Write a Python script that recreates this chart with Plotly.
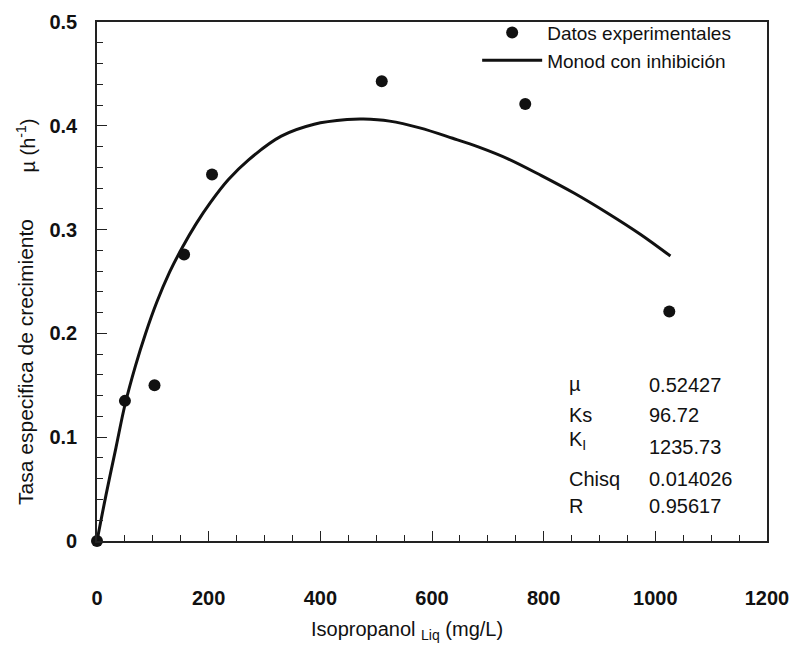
import plotly.graph_objects as go

# Experimental data: isopropanol concentration (mg/L) vs specific growth rate (1/h)
conc_exp = [0, 50, 103, 156, 206, 510, 767, 1025]
mu_exp = [0.0, 0.135, 0.150, 0.276, 0.353, 0.443, 0.421, 0.221]

# Fitted Monod-with-inhibition curve
conc_fit = [0, 16, 34, 50, 69, 87, 107, 130, 153, 178, 203, 235, 271, 330,
            389, 448, 477, 524, 578, 637, 684, 737, 796, 855, 914, 973, 1027]
mu_fit = [0.0, 0.044, 0.090, 0.131, 0.169, 0.200, 0.230, 0.259, 0.283,
          0.306, 0.326, 0.348, 0.367, 0.390, 0.4015, 0.406, 0.4065, 0.4045,
          0.398, 0.388, 0.3795, 0.368, 0.352, 0.335, 0.316, 0.2955, 0.2745]

# Fit parameters listed in the lower-right box
param_names = ["µ", "Ks", "K<sub>I</sub>", "Chisq", "R"]
param_values = ["0.52427", "96.72", "1235.73", "0.014026", "0.95617"]
name_y = [0.151, 0.1215, 0.097, 0.0594, 0.034]
value_y = [0.150, 0.1217, 0.0906, 0.0594, 0.034]

x_ticks = [0, 200, 400, 600, 800, 1000, 1200]
y_ticks = [0, 0.1, 0.2, 0.3, 0.4, 0.5]
y_tick_text = ["0", "0.1", "0.2", "0.3", "0.4", "0.5"]

FONT = "Liberation Sans, Arial, sans-serif"
INK = "#111111"
AXIS = "#222222"

fig = go.Figure()

fig.add_trace(go.Scatter(
    x=conc_exp, y=mu_exp, mode="markers", name="Datos experimentales",
    marker=dict(size=12, color=INK), cliponaxis=False,
))
fig.add_trace(go.Scatter(
    x=conc_fit, y=mu_fit, mode="lines", name="Monod con inhibición",
    line=dict(color=INK, width=3, shape="spline", smoothing=1.0),
    cliponaxis=False,
))

axis_common = dict(
    showline=True, linecolor=AXIS, linewidth=1.6, mirror=True,
    showgrid=False, zeroline=False, ticks="inside", tickcolor=AXIS,
    tickwidth=1.3, ticklen=10,
    tickfont=dict(family=FONT, size=20, color=INK, weight="bold"),
)

fig.update_xaxes(
    range=[0, 1200], tickvals=x_ticks, ticklabelstandoff=38,
    minor=dict(dtick=50, ticks="inside", ticklen=6, tickcolor=AXIS,
               tickwidth=1.3, showgrid=False),
    **axis_common,
)
fig.update_yaxes(
    range=[0, 0.5], tickvals=y_ticks, ticktext=y_tick_text,
    ticklabelstandoff=14,
    minor=dict(dtick=0.02, ticks="inside", ticklen=6, tickcolor=AXIS,
               tickwidth=1.3, showgrid=False),
    **axis_common,
)

annotations = []
for name, val, yn, yv in zip(param_names, param_values, name_y, value_y):
    annotations.append(dict(x=842, y=yn, xref="x", yref="y", text=name,
                            showarrow=False, xanchor="left", yanchor="middle",
                            font=dict(family=FONT, size=20, color=INK)))
    annotations.append(dict(x=985, y=yv, xref="x", yref="y", text=val,
                            showarrow=False, xanchor="left", yanchor="middle",
                            font=dict(family=FONT, size=20, color=INK)))

# Axis titles
annotations.append(dict(
    x=0.462, y=-0.172, xref="paper", yref="paper",
    text="Isopropanol <sub>Liq</sub> (mg/L)", showarrow=False,
    xanchor="center", yanchor="middle",
    font=dict(family=FONT, size=20, color=INK)))
annotations.append(dict(
    x=-0.106, y=0.345, xref="paper", yref="paper",
    text="Tasa especifica de crecimiento", textangle=-90, showarrow=False,
    xanchor="center", yanchor="middle",
    font=dict(family=FONT, size=21, color=INK)))
annotations.append(dict(
    x=-0.106, y=0.762, xref="paper", yref="paper",
    text="µ (h<sup>-1</sup>)", textangle=-90, showarrow=False,
    xanchor="center", yanchor="middle",
    font=dict(family=FONT, size=20, color=INK)))

fig.update_layout(
    width=800, height=652,
    margin=dict(l=97, r=25, t=11, b=111),
    paper_bgcolor="white", plot_bgcolor="white",
    showlegend=True,
    legend=dict(x=0.5674, y=1.016, xanchor="left", yanchor="top",
                bgcolor="rgba(0,0,0,0)", itemwidth=60,
                font=dict(family=FONT, size=19, color=INK),
                tracegroupgap=0),
    annotations=annotations,
    font=dict(family=FONT, color=INK),
)

fig.write_html("out.html")
